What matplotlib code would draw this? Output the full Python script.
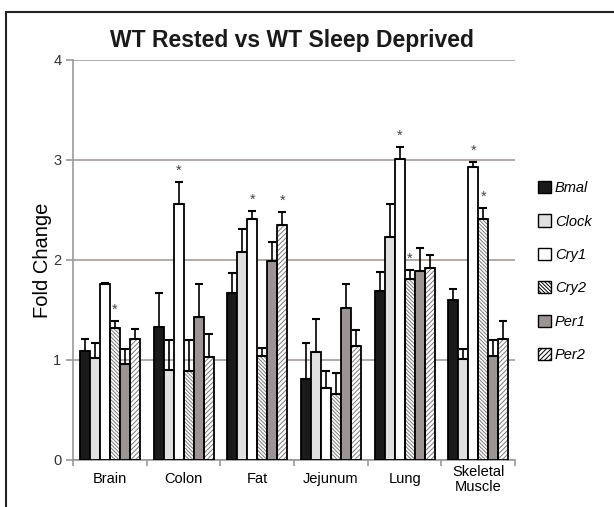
import matplotlib.pyplot as plt
from matplotlib.patches import Rectangle, Patch
import numpy as np

plt.rcParams['font.family'] = ['Liberation Sans', 'DejaVu Sans']
plt.rcParams['hatch.linewidth'] = 0.7
plt.rcParams['hatch.color'] = '#7a7a7a'

tissues = ["Brain", "Colon", "Fat", "Jejunum", "Lung", "Skeletal\nMuscle"]
genes = ["Bmal", "Clock", "Cry1", "Cry2", "Per1", "Per2"]

bmal = [1.09, 1.33, 1.67, 0.81, 1.69, 1.60]
clock = [1.02, 0.90, 2.08, 1.08, 2.23, 1.01]
cry1 = [1.76, 2.56, 2.41, 0.72, 3.01, 2.93]
cry2 = [1.32, 0.89, 1.04, 0.66, 1.81, 2.41]
per1 = [0.96, 1.43, 1.99, 1.52, 1.89, 1.04]
per2 = [1.21, 1.03, 2.35, 1.14, 1.92, 1.21]

bmal_err = [0.12, 0.34, 0.20, 0.36, 0.19, 0.11]
clock_err = [0.15, 0.30, 0.23, 0.33, 0.33, 0.10]
cry1_err = [0.01, 0.22, 0.08, 0.17, 0.12, 0.05]
cry2_err = [0.07, 0.31, 0.08, 0.21, 0.09, 0.11]
per1_err = [0.15, 0.33, 0.19, 0.24, 0.23, 0.16]
per2_err = [0.10, 0.23, 0.13, 0.16, 0.13, 0.18]

# significance marks (gene index, tissue index)
stars = [(3, 0), (2, 1), (2, 2), (5, 2), (2, 4), (3, 4), (2, 5), (3, 5)]

values = [bmal, clock, cry1, cry2, per1, per2]
errors = [bmal_err, clock_err, cry1_err, cry2_err, per1_err, per2_err]
fills = ["#1a1a1a", "#e2e0de", "white", "white", "#9c9492", "white"]
hatches = [None, None, None, "\\" * 9, None, "/" * 7]

fig = plt.figure(figsize=(6.14, 5.07), dpi=100)
ax = fig.add_axes([0.119, 0.093, 0.72, 0.789])

x = np.arange(len(tissues))
w = 0.136

for i, g in enumerate(genes):
    pos = x + (i - 2.5) * w
    if hatches[i]:
        ax.bar(pos, values[i], w, color=fills[i], edgecolor="#7a7a7a",
               hatch=hatches[i], linewidth=0, zorder=2)
        ax.bar(pos, values[i], w, fill=False, edgecolor="black", linewidth=1.3, zorder=3)
    else:
        ax.bar(pos, values[i], w, color=fills[i], edgecolor="black", linewidth=1.3, zorder=3)
    ax.errorbar(pos, values[i], yerr=[np.zeros(len(tissues)), errors[i]], fmt="none",
                ecolor="black", elinewidth=1.2, capsize=3, capthick=1.5, zorder=4)

for gi, ti in stars:
    xs = x[ti] + (gi - 2.5) * w
    ax.text(xs, values[gi][ti] + errors[gi][ti] + 0.04, "*", ha="center", va="bottom",
            fontsize=10.5, color="#444444")

ax.set_xlim(-0.5, 5.5)
ax.set_ylim(0, 4)
ax.set_yticks([0, 1, 2, 3, 4])
ax.yaxis.grid(True, color="#a39d97", linewidth=1.2, zorder=0)
ax.set_axisbelow(True)
for s in ["top", "right"]:
    ax.spines[s].set_visible(False)
for s in ["left", "bottom"]:
    ax.spines[s].set_color("#9a9a9a")
    ax.spines[s].set_linewidth(1.2)

ax.set_xticks(x)
ax.set_xticklabels(tissues, fontsize=10.5, linespacing=1.05)
for lab in ax.get_xticklabels():
    lab.set_verticalalignment("center")
ax.tick_params(axis="x", length=0, pad=14)
ax.set_xticks(np.arange(-0.5, 6, 1), minor=True)
ax.tick_params(axis="x", which="minor", length=4, color="#9a9a9a", width=1.2)
ax.tick_params(axis="y", length=5, color="#9a9a9a", width=1.2, labelsize=10.5, labelcolor="#333333")

ax.set_ylabel("Fold Change", fontsize=14.5, labelpad=1)
fig.text(0.475, 0.921, "WT Rested vs WT Sleep Deprived", ha="center", va="center",
         fontsize=16.5, fontweight="bold", color="#1a1a1a")

handles = []
for i, g in enumerate(genes):
    handles.append(Patch(facecolor=fills[i], edgecolor="black",
                         hatch=hatches[i], linewidth=1.0))
leg = fig.legend(handles, genes, loc="upper left", bbox_to_anchor=(0.855, 0.669),
                 frameon=False, labelspacing=1.33, handlelength=0.9, handleheight=0.9,
                 handletextpad=0.25, prop={"style": "italic", "size": 10.5})

fig.patches.append(Rectangle((6 / 614, -0.1), 1.2, 1 - 12 / 507 + 0.1, transform=fig.transFigure,
                             fill=False, edgecolor="#222222", linewidth=1.5))

fig.savefig("out.png", dpi=100)
